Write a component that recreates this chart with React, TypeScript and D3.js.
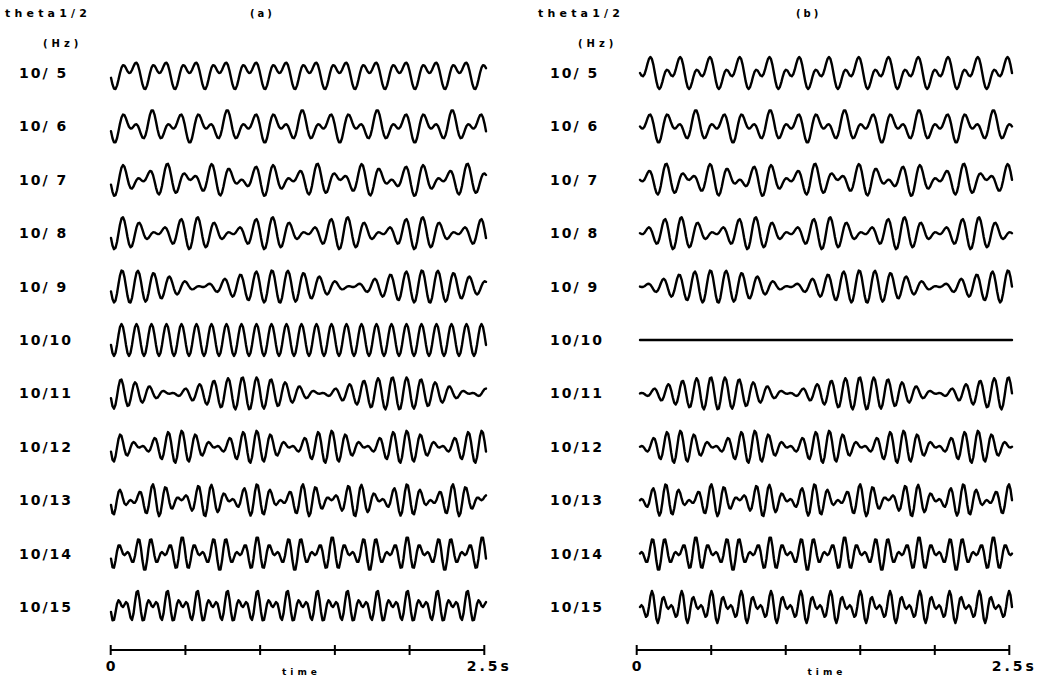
import React from "react";
import * as d3 from "d3";

// Data
const theta1 = 10; // Hz
const theta2List = [5, 6, 7, 8, 9, 10, 11, 12, 13, 14, 15]; // Hz
const rowLabels = ["10/ 5", "10/ 6", "10/ 7", "10/ 8", "10/ 9", "10/10", "10/11", "10/12", "10/13", "10/14", "10/15"];
const duration = 2.5; // s
const sampleRate = 100; // samples per second
const tickValues = [0, 0.5, 1, 1.5, 2, 2.5];
const panelTitles = ["(a)", "(b)"];
// (a): theta1 + theta2 ; (b): theta1 - theta2 (plotted negative-up)
const panelSigns = [1, -1];
const panelPhase2 = [0.2 * Math.PI, 0]; // starting phase of the theta2 component, read from beat nulls

const W = 1042;
const H = 681;

const panelLayout = [
  { ax0: 110.7, ax1: 484.3, tx0: 111, tx1: 486, labelX: 19, headX: 5, hzX: 43, titleX: 250 },
  { ax0: 636.7, ax1: 1009.3, tx0: 640, tx1: 1012, labelX: 550, headX: 538, hzX: 578, titleX: 796 },
];

const rowScale = d3.scalePoint<string>().domain(rowLabels).range([73, 607]);
const halfHeight = 16;

function signal(t: number, f2: number, sign: number, ph: number) {
  // negative-up convention
  return -(Math.sin(2 * Math.PI * theta1 * t) + sign * Math.sin(2 * Math.PI * f2 * t + ph));
}

export default function App() {
  const n = Math.round(duration * sampleRate);
  const ts = d3.range(n + 1).map((i) => i / sampleRate);
  const font = "'DejaVu Sans', 'Liberation Sans', sans-serif";
  return (
    <svg
      width={W}
      height={H}
      style={{ position: "absolute", left: 0, top: 0, background: "#fff" }}
      fontFamily={font}
    >
      <rect width={W} height={H} fill="#fff" />
      {panelLayout.map((p, pi) => {
        const xAxis = d3.scaleLinear().domain([0, duration]).range([p.ax0, p.ax1]);
        const xTrace = d3.scaleLinear().domain([0, duration]).range([p.tx0, p.tx1]);
        const sign = panelSigns[pi];
        const ph = panelPhase2[pi];
        return (
          <g key={pi}>
            <text x={p.headX} y={17} fontSize={11} fontWeight="bold" letterSpacing={4.2}>
              theta1/2
            </text>
            <text x={p.hzX} y={47} fontSize={10} fontWeight="bold" letterSpacing={4}>
              (Hz)
            </text>
            <text x={p.titleX} y={17} fontSize={10} fontWeight="bold" letterSpacing={3}>
              {panelTitles[pi]}
            </text>
            {theta2List.map((f2, ri) => {
              const cy = rowScale(rowLabels[ri])!;
              const vals = ts.map((t) => signal(t, f2, sign, ph));
              const maxAbs = d3.max(vals, (v) => Math.abs(v)) || 0;
              const y = d3
                .scaleLinear()
                .domain(maxAbs > 1e-6 ? [-maxAbs, maxAbs] : [-1, 1])
                .range([cy + halfHeight, cy - halfHeight]);
              const line = d3
                .line<number>()
                .x((_, i) => xTrace(ts[i]))
                .y((v) => y(v));
              return (
                <g key={ri}>
                  <text x={p.labelX} y={cy + 5} fontSize={14} fontWeight="bold" letterSpacing={2}>
                    {rowLabels[ri]}
                  </text>
                  <path
                    d={line(vals) || ""}
                    fill="none"
                    stroke="#000"
                    strokeWidth={2.4}
                    strokeLinejoin="round"
                    strokeLinecap="round"
                  />
                </g>
              );
            })}
            {/* time axis */}
            <line x1={xAxis(0)} x2={xAxis(duration)} y1={650} y2={650} stroke="#000" strokeWidth={2} />
            {tickValues.map((tv, i) => (
              <line key={i} x1={xAxis(tv)} x2={xAxis(tv)} y1={645} y2={655} stroke="#000" strokeWidth={2} />
            ))}
            <text x={xAxis(0)} y={671} fontSize={14} fontWeight="bold" textAnchor="middle">
              0
            </text>
            <text x={xAxis(duration) + 5} y={671} fontSize={14} fontWeight="bold" textAnchor="middle" letterSpacing={3}>
              2.5s
            </text>
            <text x={xAxis(duration / 2) + 4} y={675} fontSize={9} fontWeight="bold" textAnchor="middle" letterSpacing={4}>
              time
            </text>
          </g>
        );
      })}
    </svg>
  );
}
